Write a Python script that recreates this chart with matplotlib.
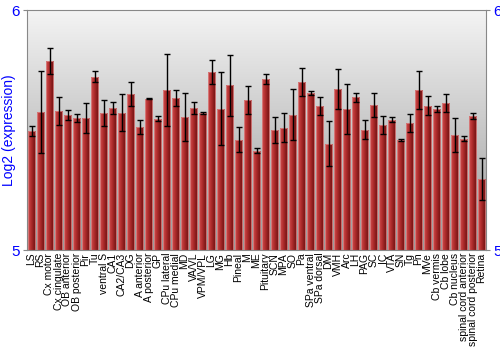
import numpy as np
import matplotlib.pyplot as plt
from matplotlib.colors import LinearSegmentedColormap

plt.rcParams["font.family"] = ["Liberation Sans", "DejaVu Sans"]

regioni = [
    "LS", "RS", "Cx motor", "Cx cingulate", "OB anterior", "OB posterior", "Pir",
    "Tu", "ventral S", "CA1", "CA2/CA3", "DG", "A anterior", "A posterior", "GP",
    "CPu lateral", "CPu medial", "MD", "VA/VL", "VPM/VPL", "LG", "MG", "Hb",
    "Pineal", "M", "ME", "Pituitary", "SCN", "MPA", "SO", "Pa", "SPa ventral",
    "SPa dorsal", "DM", "VMH", "Arc", "LH", "PAG", "SC", "IC", "VTA", "SN", "Tg",
    "Pn", "MVe", "Cb vermis", "Cb lobe", "Cb nucleus", "spinal cord anterior",
    "spinal cord posterior", "Retina",
]
valori = [
    5.496, 5.576, 5.788, 5.579, 5.563, 5.551, 5.549, 5.722, 5.571, 5.592,
    5.572, 5.649, 5.513, 5.630, 5.547, 5.668, 5.633, 5.554, 5.592, 5.571,
    5.740, 5.589, 5.686, 5.460, 5.625, 5.413, 5.711, 5.501, 5.510, 5.563,
    5.699, 5.654, 5.600, 5.443, 5.671, 5.588, 5.636, 5.501, 5.605, 5.522,
    5.543, 5.460, 5.529, 5.667, 5.601, 5.588, 5.613, 5.479, 5.464, 5.558,
    5.296,
]
errori = [
    0.022, 0.170, 0.055, 0.060, 0.020, 0.016, 0.062, 0.022, 0.056, 0.024,
    0.078, 0.050, 0.030, 0.002, 0.010, 0.150, 0.033, 0.100, 0.024, 0.004,
    0.050, 0.153, 0.126, 0.053, 0.058, 0.010, 0.021, 0.054, 0.062, 0.106,
    0.059, 0.008, 0.038, 0.094, 0.083, 0.105, 0.020, 0.040, 0.051, 0.037,
    0.010, 0.004, 0.036, 0.079, 0.039, 0.012, 0.036, 0.070, 0.011, 0.014,
    0.086,
]

fig = plt.figure(figsize=(5, 3.5), dpi=100)
ax = fig.add_axes([0.054, 0.2857, 0.918, 0.6857])

x = np.arange(len(regioni))
ymin, ymax = 5, 6

# sfondo sfumato (chiaro in alto, grigio in basso)
sfondo = LinearSegmentedColormap.from_list("sfondo", ["#f4f4f4", "#9a9a9a"])
grad = np.linspace(0, 1, 256).reshape(-1, 1)
ax.imshow(grad, cmap=sfondo, aspect="auto", origin="upper",
          extent=[-0.5, len(regioni) - 0.5, ymin, ymax], zorder=0)

bars = ax.bar(x, np.array(valori) - ymin, 0.86, bottom=ymin, color="none",
              edgecolor="#d88080", linewidth=0.6, zorder=2)

# sfumatura orizzontale delle barre
rosso = LinearSegmentedColormap.from_list("rosso", ["#cc5050", "#b83232", "#901e1e", "#701212"])
hgrad = np.linspace(0, 1, 64).reshape(1, -1)
for bar in bars:
    bx, bw, bh = bar.get_x(), bar.get_width(), bar.get_height()
    im = ax.imshow(hgrad, cmap=rosso, aspect="auto",
                   extent=[bx, bx + bw, ymin, ymin + bh], zorder=1)
    im.set_clip_path(bar)

ax.errorbar(x, valori, yerr=errori, fmt="none", ecolor="black", elinewidth=1,
            capsize=2, capthick=1, zorder=3)

ax.set_xlim(-0.5, len(regioni) - 0.5)
ax.set_ylim(ymin, ymax)
ax.set_xticks(x)
ax.set_xticklabels(regioni, rotation=90, fontsize=7.5)
ax.tick_params(axis="x", length=0, pad=2)
ax.set_yticks([5, 6])
ax.tick_params(axis="y", colors="blue", labelsize=11, length=3, left=True, right=True,
               labelleft=True, labelright=True, pad=2)
ax.tick_params(axis="y", color="#888888")
ax.set_ylabel("Log2 (expression)", color="blue", fontsize=10)
ax.yaxis.set_label_coords(-0.025, 0.5)
for s in ax.spines.values():
    s.set_color("#888888")

fig.savefig("out.png", dpi=100)
